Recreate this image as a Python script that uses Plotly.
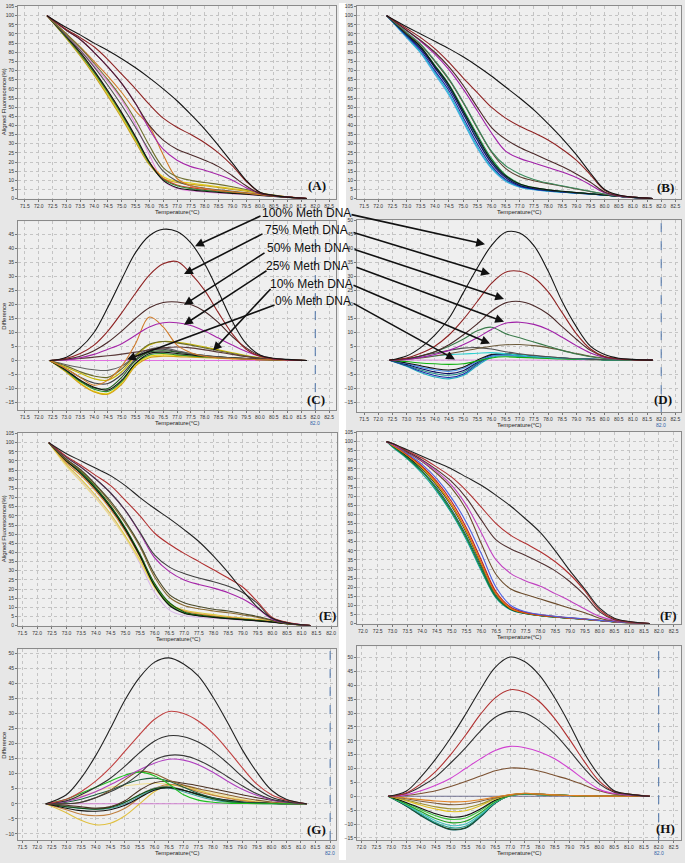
import plotly.graph_objects as go

# ---------------- temperature grids (deg C) ----------------
T_AB = [72.3, 73.0, 73.5, 74.0, 74.5, 75.0, 75.5, 76.0, 76.5, 77.0, 77.5, 78.0, 78.5, 79.0, 79.5, 80.0, 80.5, 81.0, 81.7]
T_CD = [72.4, 73.0, 73.5, 74.0, 74.5, 75.0, 75.5, 76.0, 76.5, 77.0, 77.5, 78.0, 78.5, 79.0, 79.5, 80.0, 80.5, 81.0, 81.7]
T_E = [72.4, 73.0, 73.5, 74.0, 74.5, 75.0, 75.5, 76.0, 76.5, 77.0, 77.5, 78.0, 78.5, 79.0, 79.5, 80.0, 80.5, 81.3]
T_F = [72.8, 73.0, 73.5, 74.0, 74.5, 75.0, 75.5, 76.0, 76.5, 77.0, 77.5, 78.0, 78.5, 79.0, 79.5, 80.0, 80.5, 81.0, 81.7]
T_G = [72.3, 73.0, 73.5, 74.0, 74.5, 75.0, 75.5, 76.0, 76.5, 77.0, 77.5, 78.0, 78.5, 79.0, 79.5, 80.0, 80.5, 81.2]
T_H = [72.9, 73.5, 74.0, 74.5, 75.0, 75.5, 76.0, 76.5, 77.0, 77.5, 78.0, 78.5, 79.0, 79.5, 80.0, 80.5, 81.0, 81.7]

# ---------------- Panel A : aligned fluorescence (%) ----------------
A_100 = [100, 93.5, 89.5, 85, 81, 76.5, 71.5, 66, 60, 53.5, 46, 38, 29, 19.5, 10, 3.5, 1.8, 0.8, 0]
A_75 = [100, 92.5, 88, 83, 76, 68, 60, 51.5, 44, 39, 35, 30.5, 25, 18, 9.5, 3.3, 1.7, 0.8, 0]
A_50 = [100, 92, 87, 80, 72, 63, 52, 40, 32, 27, 24, 21, 17.5, 12.5, 7, 2.8, 1.6, 0.8, 0]
A_25 = [100, 92, 87, 80, 72, 63, 52, 38, 27, 21, 17.5, 15.5, 13, 10, 6, 2.8, 1.6, 0.8, 0]
A_b1 = [100, 88, 79, 68.5, 57, 45, 32, 19.5, 12, 9.5, 8.5, 7.5, 6.5, 5.5, 4.5, 3, 1.8, 0.9, 0]
A_b2 = [100, 87.5, 78, 67.5, 56, 44, 31, 18.5, 11, 8.8, 7.8, 7, 6, 5, 4, 2.7, 1.6, 0.8, 0]
A_b3 = [100, 88.5, 80, 70, 59, 47, 34, 20, 10, 6, 4.8, 4, 3.4, 2.9, 2.4, 1.8, 1.2, 0.7, 0]
A_b4 = [100, 88, 79, 69, 58, 46, 33, 19.5, 10.5, 7, 5.5, 4.5, 3.8, 3.2, 2.6, 2, 1.3, 0.7, 0]
A_b5 = [100, 89.5, 81.5, 73, 64, 54, 40.5, 24, 10, 5.5, 4.3, 3.6, 3.1, 2.7, 2.3, 1.8, 1.2, 0.7, 0]
A_b6 = [100, 90, 83, 75, 67, 58, 48, 39.5, 24, 11, 7, 5.5, 4.5, 3.7, 3, 2.2, 1.4, 0.8, 0]
A_b7 = [100, 90, 82.5, 74, 65, 55, 43, 29, 17, 12, 10, 8.8, 7.8, 6.5, 5, 3.2, 1.9, 0.9, 0]
A_b8 = [100, 89, 81, 72, 62, 51, 39, 26, 15, 9.5, 7, 5.7, 4.8, 4, 3.2, 2.3, 1.5, 0.8, 0]
A_b9 = [100, 88.5, 79.5, 69.5, 58.5, 46.5, 33.5, 20, 11, 7.5, 6, 5, 4.2, 3.5, 2.9, 2.2, 1.6, 1, 0]

# ---------------- Panel B ----------------
B_100 = [100, 94, 90, 86, 82, 77.5, 72.5, 67, 61, 55, 48.5, 41, 33, 24, 14, 5, 2, 0.8, 0]
B_75 = [100, 93, 88, 82, 74.5, 66, 58, 50, 44, 39.5, 36, 32, 27, 21, 13, 4.5, 1.8, 0.8, 0]
B_50 = [100, 92, 86.5, 80, 72, 62, 50, 39, 32.5, 28, 24.5, 21, 17.5, 13.5, 9, 3.6, 1.6, 0.8, 0]
B_25 = [100, 92, 86, 79, 70.5, 60, 48, 36, 26, 22, 19.5, 17, 14.5, 11.5, 7.5, 3.2, 1.5, 0.7, 0]
B_10 = [100, 91, 84.5, 75.5, 65.5, 53, 39, 26, 18, 13.5, 10.5, 8.5, 7, 5.5, 4, 2.5, 1.3, 0.6, 0]
B_10b = [100, 90.5, 84, 75, 65, 52.5, 38.5, 25.5, 16.5, 12, 9.8, 8.2, 6.8, 5.3, 3.9, 2.4, 1.3, 0.6, 0]
B_b1 = [100, 89, 81, 70, 59, 44.5, 30, 18, 10.5, 6.8, 5.2, 4.3, 3.6, 3, 2.5, 1.9, 1.2, 0.6, 0]
B_b2 = [100, 88.5, 80, 69, 57.5, 43, 28.5, 17, 10, 6.5, 5, 4.2, 3.5, 3, 2.5, 1.9, 1.2, 0.6, 0]
B_b3 = [100, 89.5, 82, 71.5, 60.5, 46.5, 32, 19.5, 11.5, 7.2, 5.5, 4.5, 3.8, 3.2, 2.6, 2, 1.3, 0.6, 0]
B_b4 = [100, 90, 83, 73, 62.5, 49, 35, 22, 13, 8.2, 6, 4.8, 4, 3.3, 2.7, 2, 1.3, 0.6, 0]
B_b5 = [100, 89.5, 82.5, 72, 61.5, 47.5, 33, 20.5, 12, 7.6, 5.7, 4.6, 3.9, 3.2, 2.6, 2, 1.3, 0.6, 0]
B_b6 = [100, 90, 83, 72.5, 62, 48, 34, 21, 12.5, 8, 6, 4.8, 4, 3.3, 2.7, 2, 1.3, 0.6, 0]
B_b7 = [100, 88, 79.5, 68, 56.5, 42, 27.5, 16.5, 9.5, 6.3, 4.9, 4.1, 3.5, 3, 2.5, 1.9, 1.2, 0.6, 0]

# ---------------- Panel C : difference ----------------
C_100 = [0, 1.2, 4.5, 10, 19, 29, 38.5, 44.5, 46.8, 46, 42, 34.5, 24.5, 14, 6, 2, 0.8, 0.4, 0]
C_75 = [0, 0.8, 2.5, 5.5, 10.5, 17, 24, 30.5, 34.5, 35.3, 31, 25, 17, 9.5, 4, 1.5, 0.6, 0.3, 0]
C_50 = [0, 0.5, 1.5, 3.5, 6.5, 10.5, 15, 18.8, 20.7, 20.9, 20, 17.5, 13.5, 8.5, 4.5, 1.8, 0.7, 0.3, 0]
C_25 = [0, 0.3, 1, 2.2, 4, 6, 9, 12, 13.5, 13.5, 12.5, 10.5, 8, 5.5, 3.2, 1.5, 0.6, 0.2, 0]
C_or = [0, -3, -6, -8.8, -7, -2, 6, 15.5, 12, 5.5, 2.8, 1.5, 1, 0.7, 0.5, 0.3, 0.2, 0.1, 0]
C_10a = [0, -2.5, -4.5, -6.5, -7, -4, 1.5, 5.5, 6.8, 6.5, 5.8, 4.8, 3.8, 2.8, 1.8, 1, 0.5, 0.2, 0]
C_10b = [0, -2, -4, -5.5, -6, -3, 2, 5.8, 6.8, 6.3, 5.5, 4.5, 3.5, 2.5, 1.6, 0.9, 0.4, 0.2, 0]
C_gr = [0, -1.5, -2.5, -3.3, -3.5, -2, 1.5, 4, 4.5, 3.5, 2.5, 1.8, 1.2, 0.8, 0.5, 0.3, 0.2, 0.1, 0]
C_rise = [0, 0.3, 0.7, 1.2, 1.7, 2.3, 3, 3.8, 4.5, 4.8, 4.5, 3.8, 3, 2.2, 1.4, 0.8, 0.4, 0.2, 0]
C_b1 = [0, -4, -8, -11, -11.8, -8, -1.5, 1.5, 2, 1.8, 1.5, 1.2, 1, 0.8, 0.6, 0.4, 0.3, 0.1, 0]
C_b2 = [0, -4.2, -8.3, -11.2, -12, -8.5, -2, 1, 1.5, 1.4, 1.2, 1, 0.8, 0.6, 0.5, 0.3, 0.2, 0.1, 0]
C_b3 = [0, -3.5, -7, -9.5, -10.5, -7, -1, 2.5, 3, 2.5, 2, 1.5, 1.2, 0.9, 0.7, 0.5, 0.3, 0.1, 0]
C_b4 = [0, -3.8, -7.5, -10.2, -11, -7.5, -1, 2, 2.5, 2, 1.6, 1.3, 1, 0.8, 0.6, 0.4, 0.2, 0.1, 0]
C_b5 = [0, -3, -6, -8, -8.2, -5, 0.5, 3.5, 4, 3.2, 2.4, 1.8, 1.3, 1, 0.7, 0.5, 0.3, 0.1, 0]
C_b6 = [0, -3.6, -7.2, -9.8, -10, -6, 0, 3, 3.5, 3, 2.3, 1.7, 1.3, 1, 0.7, 0.5, 0.3, 0.1, 0]
C_ref = [0, 0, 0, 0, 0, 0, 0, 0, 0, 0, 0, 0, 0, 0, 0, 0, 0, 0, 0]

# ---------------- Panel D ----------------
D_100 = [0, 1.5, 4.5, 9, 15, 24, 33, 41, 45.8, 45.5, 41, 32, 21, 12, 5, 2, 0.7, 0.3, 0]
D_75 = [0, 0.8, 2.5, 5, 9, 14.5, 21, 27.5, 31.5, 31.8, 29.5, 24.5, 17, 9.5, 4, 1.3, 0.5, 0.2, 0]
D_50 = [0, 0.5, 1.5, 3, 5.5, 9, 13, 17.5, 20.5, 21, 19.5, 16.5, 12, 7.5, 3.5, 1.2, 0.5, 0.2, 0]
D_25 = [0, 0.3, 1, 2, 3.5, 5.5, 8, 11, 13.2, 13.6, 12.8, 11, 8.2, 5.2, 2.6, 1, 0.4, 0.2, 0]
D_gn = [0, 0.5, 1.5, 3, 5, 7.5, 10.5, 11.8, 9.5, 8, 6.5, 5, 3.5, 2.2, 1.2, 0.6, 0.3, 0.1, 0]
D_10 = [0, 0.3, 0.8, 1.5, 2.3, 3.2, 4.2, 5, 5.5, 5.6, 5.2, 4.5, 3.5, 2.4, 1.4, 0.7, 0.3, 0.1, 0]
D_gy = [0, 0.5, 1.5, 2.5, 3.5, 4.3, 4.5, 4, 3, 2.3, 1.7, 1.2, 0.8, 0.5, 0.3, 0.2, 0.1, 0, 0]
D_cy = [0, 0.5, 1, 1.5, 2, 2.2, 2.5, 2.7, 2.3, 1.8, 1.4, 1, 0.7, 0.5, 0.3, 0.2, 0.1, 0, 0]
D_g2 = [0, -0.5, -1, -1.3, -1.5, -1.3, -0.3, 0.8, 1.2, 1, 0.8, 0.6, 0.4, 0.3, 0.2, 0.1, 0, 0, 0]
D_b1 = [0, -2, -4, -5.5, -6.2, -5, -1.5, 1.5, 2, 1.6, 1.2, 0.9, 0.7, 0.5, 0.3, 0.2, 0.1, 0, 0]
D_b2 = [0, -2.2, -4.4, -6, -6.7, -5.5, -2, 1, 1.6, 1.3, 1, 0.8, 0.6, 0.4, 0.3, 0.2, 0.1, 0, 0]
D_b3 = [0, -1.5, -3, -4.2, -4.8, -3.8, -0.8, 1.8, 2.2, 1.8, 1.4, 1, 0.7, 0.5, 0.3, 0.2, 0.1, 0, 0]
D_b4 = [0, -1.8, -3.5, -4.8, -5.4, -4.4, -1.2, 1.6, 2, 1.7, 1.3, 1, 0.7, 0.5, 0.3, 0.2, 0.1, 0, 0]
D_b5 = [0, -1.2, -2.5, -3.5, -4, -3, -0.5, 1.5, 1.9, 1.5, 1.1, 0.8, 0.6, 0.4, 0.3, 0.2, 0.1, 0, 0]
D_b6 = [0, -1, -2, -3, -3.5, -2.5, 0, 2, 2.3, 1.9, 1.5, 1.1, 0.8, 0.5, 0.3, 0.2, 0.1, 0, 0]
D_ref = [0, 0, 0, 0, 0, 0, 0, 0, 0, 0, 0, 0, 0, 0, 0, 0, 0, 0, 0]

# ---------------- Panel E ----------------
E_100 = [100, 94, 90, 86, 82, 76.5, 70, 64, 58.5, 52.5, 46, 38, 29, 19, 10, 4, 1.5, 0]
E_75 = [100, 92.5, 87.5, 82, 76.5, 68.5, 60, 50.5, 44.5, 39.5, 35, 30.5, 26, 21, 13, 4.5, 1.8, 0]
E_50 = [100, 92, 86.5, 80, 72.5, 63, 51, 38.5, 32, 28.5, 26, 24, 21.5, 18, 12, 4, 1.6, 0]
E_25 = [100, 92, 86.5, 80, 72.5, 63, 50.5, 37, 29.5, 25, 22.5, 20.5, 18, 14.5, 9.5, 3.5, 1.5, 0]
E_10 = [100, 91, 85, 77, 68, 57, 44, 28, 17, 12.5, 10.5, 9, 8, 6.5, 5, 3, 1.2, 0]
E_10b = [100, 90.5, 84.5, 76.5, 67, 56, 43, 26.5, 15.5, 11, 9.2, 8, 7, 5.8, 4.5, 2.7, 1.1, 0]
E_b1 = [100, 90, 83.5, 75, 65, 53, 38.5, 22, 11.5, 7, 5.5, 4.6, 3.9, 3.3, 2.7, 2, 1, 0]
E_b2 = [100, 90, 83, 74.5, 64.5, 52.5, 38, 21.5, 11, 6.8, 5.3, 4.5, 3.8, 3.2, 2.6, 1.9, 1, 0]
E_b3 = [100, 88, 80, 71, 61, 49, 36, 21, 12, 8.5, 7, 6, 5, 4.2, 3.4, 2.4, 1.2, 0]
E_b4 = [100, 87, 78.5, 69.5, 59.5, 48, 35, 20.5, 11.5, 8, 6.5, 5.5, 4.6, 3.9, 3.2, 2.3, 1.1, 0]
E_b5 = [100, 87.5, 79, 70, 60, 48, 34, 18, 8.5, 5.5, 4.6, 4, 3.5, 3, 2.5, 1.8, 0.9, 0]
E_b6 = [100, 90.5, 84, 75.5, 65.5, 53.5, 39, 23, 12.5, 7.5, 5.8, 4.8, 4, 3.4, 2.8, 2, 1, 0]
E_b7 = [100, 89, 82, 73.5, 63.5, 51.5, 37.5, 22, 12, 8, 6.3, 5.3, 4.5, 3.7, 3, 2.1, 1.1, 0]

# ---------------- Panel F ----------------
F_100 = [100, 99, 95.5, 92, 88.5, 85, 80.5, 76, 70.5, 64.5, 57.5, 50, 40, 29, 19, 8.5, 3, 1.2, 0]
F_75 = [100, 99, 95, 91, 86, 80.5, 73, 64, 55, 48.5, 44, 39.5, 34, 27, 18, 7.5, 2.5, 1, 0]
F_50 = [100, 99, 94.5, 90, 84.5, 78, 69, 57, 46, 41, 37.5, 33.5, 29, 23, 15.5, 6.5, 2.2, 1, 0]
F_25 = [100, 98.5, 94.5, 89.5, 83.5, 76, 65, 50, 35, 27.5, 23.5, 20.5, 16.5, 12.5, 8, 4, 1.8, 0.9, 0]
F_10 = [100, 98.5, 94, 89, 82.5, 74.5, 62.5, 44, 27, 19, 16, 13.5, 11, 8.5, 6, 3, 1.5, 0.8, 0]
F_b1 = [100, 97, 90.5, 82.5, 72.5, 60.5, 46, 29, 14, 7.5, 5.5, 4.3, 3.5, 2.9, 2.3, 1.6, 1, 0.5, 0]
F_b2 = [100, 97.5, 91, 83.5, 73.5, 61.5, 47, 30, 14.5, 7.8, 5.6, 4.4, 3.6, 3, 2.4, 1.7, 1, 0.5, 0]
F_b3 = [100, 98, 92.5, 86, 77, 65.5, 51, 33.5, 16.5, 8.2, 5.8, 4.5, 3.7, 3, 2.4, 1.7, 1, 0.5, 0]
F_b4 = [100, 98, 92.5, 85.5, 76.5, 65, 50.5, 33, 16.5, 8.5, 6, 4.7, 3.8, 3.1, 2.5, 1.8, 1.1, 0.5, 0]
F_b5 = [100, 98, 92, 85, 76, 64.5, 50, 32.5, 16, 8, 5.7, 4.5, 3.7, 3, 2.4, 1.7, 1, 0.5, 0]
F_b6 = [100, 98.5, 93, 86.5, 78, 67, 52.5, 35, 17.5, 9, 6.2, 4.8, 3.9, 3.2, 2.5, 1.8, 1.1, 0.5, 0]
F_b7 = [100, 98.5, 93.5, 87.5, 79.5, 69, 55.5, 38.5, 20, 10, 6.5, 5, 4, 3.3, 2.6, 1.8, 1.1, 0.5, 0]
F_b8 = [100, 97.5, 91.5, 84, 74.5, 62.5, 48, 31, 15, 8, 5.7, 4.4, 3.6, 3, 2.4, 1.7, 1, 0.5, 0]

# ---------------- Panel G ----------------
G_100 = [0, 3, 8.5, 16, 25, 34.5, 42, 47, 48.5, 46.5, 42.5, 35.5, 27, 18, 10.5, 4.5, 1.5, 0]
G_75 = [0, 1.5, 4, 7.5, 12, 17.5, 23, 28, 30.7, 30, 27.5, 23.5, 18, 12, 6.5, 3, 1.2, 0]
G_50 = [0, 1, 3, 5.5, 8.5, 12.5, 17, 20.8, 22.6, 22.3, 20.5, 17.5, 13.5, 9, 5, 2.2, 0.9, 0]
G_25 = [0, 0, 0.5, 2, 4, 6.5, 10, 14.5, 16.1, 16, 14.5, 12, 9, 6, 3.3, 1.5, 0.6, 0]
G_pu = [0, 0.8, 2.2, 4, 6.3, 8.8, 11.3, 13.5, 14.8, 14.5, 13, 10.5, 7.5, 4.8, 2.8, 1.3, 0.5, 0]
G_gn = [0, 1.5, 3.5, 5.5, 7.5, 9.5, 10.5, 9.3, 6.5, 3, 1.2, 0.5, 0.2, 0.1, 0, 0, 0, 0]
G_br = [0, 0, 0.5, 2, 4.5, 8, 10.8, 10, 7.8, 6.2, 5, 4, 3, 2, 1.2, 0.6, 0.2, 0]
G_dg = [0, 0.5, 1.5, 3, 4.5, 6.5, 8, 8.5, 7.5, 5.5, 3.5, 2, 1, 0.5, 0.3, 0.1, 0, 0]
G_db = [0, -0.5, -1, -1.5, -1, 1, 4.5, 7, 7.5, 6.8, 6, 5, 4, 3, 2, 1.2, 0.5, 0]
G_ye = [0, -3, -5.5, -7, -6.5, -4, 0, 4, 6.2, 6, 4.5, 3, 2, 1.2, 0.6, 0.3, 0.1, 0]
G_or = [0, -2, -3.5, -4, -3.5, -1.5, 2, 5, 6.5, 5.5, 4, 2.8, 1.8, 1, 0.5, 0.2, 0.1, 0]
G_bk = [0, -1.5, -2.3, -2.5, -2, -0.5, 2, 4.5, 5.3, 4.5, 3.2, 2, 1.2, 0.6, 0.3, 0.1, 0, 0]
G_te = [0, -1, -1.6, -1.8, -1.5, 0, 2.5, 4.7, 5.2, 4, 2.5, 1.3, 0.6, 0.3, 0.1, 0, 0, 0]
G_gy = [0, -0.8, -1.3, -1.5, -1, 0.5, 3, 5.2, 5.8, 4.5, 3, 1.8, 1, 0.5, 0.2, 0.1, 0, 0]
G_ly = [0, 1, 2.5, 4, 5.5, 6, 6.5, 6.8, 6.5, 5.5, 4.5, 3.5, 2.5, 1.5, 0.8, 0.3, 0.1, 0]
G_d2 = [0, -1, -1.5, -1.8, -1.2, 0.5, 3, 5, 5.5, 4.5, 3, 1.7, 0.8, 0.4, 0.2, 0.1, 0, 0]
G_ref = [0, 0, 0, 0, 0, 0, 0, 0, 0, 0, 0, 0, 0, 0, 0, 0, 0, 0]

# ---------------- Panel H ----------------
H_100 = [0, 1.8, 7, 13.5, 21, 29.5, 38.5, 46.5, 50.2, 48.5, 43.5, 35.5, 26, 15.5, 7.5, 2, 0.8, 0]
H_75 = [0, 1.2, 4.5, 9, 15, 22, 29.5, 35.5, 38.4, 37.5, 34, 28, 20.5, 12.5, 5.5, 1.8, 0.8, 0]
H_50 = [0, 1, 3.5, 7, 12, 17.5, 23.5, 28.5, 30.6, 30, 27, 22.5, 16.5, 10, 4.5, 1.5, 0.7, 0]
H_25 = [0, 0.6, 2, 4, 6.5, 10, 13.5, 16.5, 18, 17.5, 16, 13.5, 10, 6, 2.5, 1, 0.5, 0]
H_10 = [0, 0.3, 1, 2, 3.5, 5.3, 7.3, 9.2, 10.2, 10, 9, 7.5, 6, 4, 2, 0.8, 0.3, 0]
H_b1 = [0, -3.5, -7, -10, -12, -11.5, -7.5, -2.5, 0.3, 0.8, 0.6, 0.4, 0.3, 0.2, 0.1, 0, 0, 0]
H_b2 = [0, -3.2, -6.5, -9.5, -11.3, -10.8, -7, -2.3, 0.3, 0.8, 0.6, 0.4, 0.3, 0.2, 0.1, 0, 0, 0]
H_b3 = [0, -2.8, -5.5, -8, -9.5, -9, -6, -2, 0.2, 0.9, 0.7, 0.5, 0.3, 0.2, 0.1, 0, 0, 0]
H_b4 = [0, -2.4, -4.8, -7, -8.3, -7.8, -5.2, -1.6, 0.3, 1, 0.7, 0.5, 0.3, 0.2, 0.1, 0, 0, 0]
H_b5 = [0, -2.2, -4.3, -6.3, -7.5, -7, -4.6, -1.4, 0.4, 1, 0.7, 0.5, 0.3, 0.2, 0.1, 0, 0, 0]
H_b6 = [0, -1.6, -3.2, -4.6, -5.5, -5.2, -3.4, -1, 0.4, 1, 0.7, 0.5, 0.3, 0.2, 0.1, 0, 0, 0]
H_b7 = [0, -1.3, -2.6, -3.8, -4.5, -4.2, -2.8, -0.8, 0.5, 1.1, 0.8, 0.5, 0.3, 0.2, 0.1, 0, 0, 0]
H_b8 = [0, -0.9, -1.8, -2.5, -3, -2.8, -1.8, -0.5, 0.5, 1, 0.8, 0.5, 0.3, 0.2, 0.1, 0, 0, 0]
H_b9 = [0, -3, -6, -8.8, -10.5, -10, -6.6, -2.2, 0.2, 0.9, 0.6, 0.4, 0.3, 0.2, 0.1, 0, 0, 0]
H_b10 = [0, -3.4, -6.8, -9.8, -11.8, -11.3, -7.3, -2.4, 0.2, 0.8, 0.6, 0.4, 0.3, 0.2, 0.1, 0, 0, 0]
H_or = [0, -0.6, -1.2, -1.7, -2, -1.9, -1.2, -0.3, 0.6, 1.1, 0.8, 0.5, 0.3, 0.2, 0.1, 0, 0, 0]
H_ref = [0, 0, 0, 0, 0, 0, 0, 0, 0, 0, 0, 0, 0, 0, 0, 0, 0, 0]

# ---------------- labels ----------------
PANEL_LABELS = ["(A)", "(B)", "(C)", "(D)", "(E)", "(F)", "(G)", "(H)"]
METH_LABELS = ["100% Meth DNA", "75% Meth DNA", "50% Meth DNA", "25% Meth DNA", "10% Meth DNA", "0% Meth DNA"]
X_TITLE = "Temperature(\u00b0C)"
Y_TITLE_FLUO = "Aligned Fluorescence(%)"
Y_TITLE_DIFF = "Difference"
MARKER_TEMP = 82.0

# ---------------- styling: (curve, colour) per panel ----------------
panels = [
    dict(T=T_AB, curves=[(A_b5, "#e58ae0"), (A_b1, "#e3d21a"), (A_b2, "#caa21c"), (A_b9, "#d83a2a"),
                         (A_b4, "#2f8a35"), (A_b3, "#111111"), (A_b8, "#555555"), (A_b6, "#d07a28"),
                         (A_b7, "#707030"), (A_25, "#a524a8"), (A_50, "#4a2828"), (A_75, "#8e2222"),
                         (A_100, "#151515")]),
    dict(T=T_AB, curves=[(B_b7, "#49a7e8"), (B_b2, "#1fb8c8"), (B_b1, "#1a2aa8"), (B_b5, "#1f8a84"),
                         (B_b3, "#0a0a60"), (B_b4, "#18a048"), (B_b6, "#111111"), (B_10b, "#5a4030"),
                         (B_10, "#3c8a5c"), (B_25, "#a020a8"), (B_50, "#4a2828"), (B_75, "#8e2222"),
                         (B_100, "#151515")]),
    dict(T=T_CD, curves=[(C_ref, "#e070e0"), (C_b1, "#e8d800"), (C_b2, "#d4a017"), (C_b4, "#2e8b2e"),
                         (C_b6, "#1f5f1f"), (C_b3, "#111111"), (C_b5, "#444444"), (C_gr, "#606060"),
                         (C_10a, "#c8b800"), (C_10b, "#6b6b2a"), (C_rise, "#5a3a3a"), (C_or, "#d07a28"),
                         (C_25, "#a524a8"), (C_50, "#4a2828"), (C_75, "#8e2222"), (C_100, "#151515")]),
    dict(T=T_CD, curves=[(D_ref, "#e0a0e0"), (D_b2, "#20b0c0"), (D_b1, "#1a2aa8"), (D_b4, "#1f8a84"),
                         (D_b3, "#0a0a60"), (D_b5, "#4a90e8"), (D_b6, "#111111"), (D_g2, "#10b010"),
                         (D_cy, "#30d0d0"), (D_gy, "#505050"), (D_10, "#6b5a3a"), (D_gn, "#3a7a4a"),
                         (D_25, "#a020a8"), (D_50, "#4a2828"), (D_75, "#8e2222"), (D_100, "#151515")]),
    dict(T=T_E, curves=[(E_b5, "#d8b8e8"), (E_b4, "#efe08a"), (E_b3, "#dcc840"), (E_b7, "#d08030"),
                        (E_b1, "#22a022"), (E_b6, "#106010"), (E_b2, "#111111"), (E_10b, "#8a6a30"),
                        (E_10, "#4a4a2a"), (E_25, "#a524a8"), (E_50, "#404040"), (E_75, "#b03030"),
                        (E_100, "#222222")]),
    dict(T=T_F, curves=[(F_b1, "#10a0a0"), (F_b8, "#206060"), (F_b2, "#108030"), (F_b5, "#111111"),
                        (F_b4, "#d0c010"), (F_b3, "#e07010"), (F_b6, "#c02020"), (F_b7, "#5060e0"),
                        (F_10, "#6a4a2a"), (F_25, "#c040c0"), (F_50, "#503030"), (F_75, "#b03030"),
                        (F_100, "#222222")]),
    dict(T=T_G, curves=[(G_ref, "#d080d0"), (G_ly, "#f0e090"), (G_ye, "#e0c040"), (G_or, "#c08040"),
                        (G_te, "#40a0a0"), (G_gy, "#909090"), (G_d2, "#105010"), (G_bk, "#111111"),
                        (G_db, "#4a3020"), (G_dg, "#206040"), (G_br, "#8a6030"), (G_gn, "#20c020"),
                        (G_pu, "#b040c0"), (G_25, "#3a3a3a"), (G_50, "#303030"), (G_75, "#c04040"),
                        (G_100, "#222222")]),
    dict(T=T_H, curves=[(H_ref, "#707090"), (H_b1, "#106060"), (H_b10, "#204020"), (H_b2, "#20a090"),
                        (H_b9, "#40c0c0"), (H_b3, "#20a020"), (H_b4, "#40c040"), (H_b5, "#111111"),
                        (H_b6, "#e0c020"), (H_b7, "#a09030"), (H_b8, "#806040"), (H_or, "#e08020"),
                        (H_10, "#7a5030"), (H_25, "#d040d0"), (H_50, "#303030"), (H_75, "#b03030"),
                        (H_100, "#222222")]),
]

W, H = 685, 863
def px_x(v):
    return v / W
def px_y(v):
    return 1 - v / H

# plot-area pixel boxes: (left, right, top, bottom)
boxes = [(18, 336, 3, 197), (357, 681, 3, 197),
         (18, 336, 220, 410), (357, 681, 219, 412),
         (18, 337, 433, 627), (357, 681, 432, 625),
         (18, 336, 651, 843), (357, 681, 648, 843)]
xranges = [[71.25, 82.75], [71.25, 82.7], [71.25, 82.75], [71.25, 82.7],
           [71.35, 82.2], [71.8, 82.75], [71.35, 82.2], [71.85, 82.75]]
yranges = [[0, 105.3], [0, 105.3], [-17.7, 49.6], [-18.6, 50],
           [0, 105.3], [0, 105.3], [-12.1, 51.3], [-15.8, 54]]
xtick0 = [71.5, 71.5, 71.5, 71.5, 71.5, 72.0, 71.5, 72.0]
ytick0 = [0, 0, -15, -15, 0, 0, -10, -15]

fig = go.Figure()
for i, p in enumerate(panels):
    sfx = "" if i == 0 else str(i + 1)
    for ys, col in p["curves"]:
        fig.add_trace(go.Scatter(x=p["T"], y=ys, mode="lines",
                                 line=dict(color=col, width=1.1, shape="spline", smoothing=1.0),
                                 xaxis="x" + sfx, yaxis="y" + sfx, showlegend=False, hoverinfo="skip"))

axis_common = dict(showgrid=True, gridcolor="#c4c4c4", griddash="dot", gridwidth=1,
                   showline=True, linecolor="#8a8a8a", linewidth=1, mirror=True,
                   ticks="outside", ticklen=2, tickcolor="#777777",
                   tickfont=dict(size=5, color="#333333", family="Liberation Sans"),
                   zeroline=False, fixedrange=True)
layout = {}
for i in range(8):
    sfx = "" if i == 0 else str(i + 1)
    l, r, t, b = boxes[i]
    layout["xaxis" + sfx] = dict(axis_common, domain=[px_x(l), px_x(r)], range=xranges[i],
                                 tick0=xtick0[i], dtick=0.5, tickformat=".1f",
                                 anchor="y" + sfx)
    layout["yaxis" + sfx] = dict(axis_common, domain=[px_y(b), px_y(t)], range=yranges[i],
                                 tick0=ytick0[i], dtick=5, anchor="x" + sfx)

fig.update_layout(width=W, height=H, margin=dict(l=0, r=0, t=0, b=0),
                  paper_bgcolor="#e7e7e7", plot_bgcolor="#efefef", **layout)

shapes = [dict(type="rect", xref="paper", yref="paper", x0=px_x(339), x1=px_x(346), y0=0, y1=1,
               fillcolor="white", line=dict(width=0), layer="below")]
annotations = []
# dashed marker lines at 82.0 in difference plots
for i in [2, 3, 6, 7]:
    sfx = str(i + 1)
    shapes.append(dict(type="line", xref="x" + sfx, yref="y" + sfx + " domain", x0=MARKER_TEMP, x1=MARKER_TEMP,
                       y0=0, y1=1, line=dict(color="#4a72a8", width=1, dash="dash")))
    annotations.append(dict(x=MARKER_TEMP, y=0, xref="x" + sfx, yref="y" + sfx + " domain",
                            text=f"{MARKER_TEMP:.1f}", showarrow=False, yshift=-8,
                            xanchor="center", yanchor="top",
                            font=dict(size=5, color="#2f5fa8", family="Liberation Sans")))

# axis titles
for i in range(8):
    l, r, t, b = boxes[i]
    annotations.append(dict(x=px_x((l + r) / 2), y=px_y(b + 13), xref="paper", yref="paper",
                            text=X_TITLE, showarrow=False, xanchor="center", yanchor="middle",
                            font=dict(size=6, color="#222222", family="Liberation Sans")))
for i, txt in [(0, Y_TITLE_FLUO), (2, Y_TITLE_DIFF), (4, Y_TITLE_FLUO), (6, Y_TITLE_DIFF)]:
    l, r, t, b = boxes[i]
    annotations.append(dict(x=px_x(4), y=px_y((t + b) / 2), xref="paper", yref="paper",
                            text=txt, showarrow=False, textangle=-90, xanchor="center", yanchor="middle",
                            font=dict(size=6, color="#222222", family="Liberation Sans")))

# panel letters
letter_pos = [(317, 184), (665, 186), (316, 399), (663, 399), (327, 617), (668, 617), (316, 832), (665, 831)]
for txt, (x, y) in zip(PANEL_LABELS, letter_pos):
    annotations.append(dict(x=px_x(x), y=px_y(y), xref="paper", yref="paper", text="<b>" + txt + "</b>",
                            showarrow=False, xanchor="center", yanchor="middle",
                            font=dict(size=13, color="#111111", family="Liberation Serif")))

# methylation labels + arrows
label_pos = [(306, 211), (306, 229), (308, 247), (307, 265), (311, 283), (313, 300)]
for txt, (x, y) in zip(METH_LABELS, label_pos):
    annotations.append(dict(x=px_x(x), y=px_y(y), xref="paper", yref="paper", text=txt, showarrow=False,
                            xanchor="center", yanchor="middle",
                            font=dict(size=12, color="#111111", family="Liberation Sans")))
arrows_left = [((262, 214), (195, 245)), ((264, 232), (184, 273)), ((266, 251), (184, 304)),
               ((268, 269), (184, 324)), ((272, 287), (213, 350)), ((276, 304), (127, 359))]
arrows_right = [((350, 213), (485, 243)), ((352, 231), (490, 273)), ((353, 248), (504, 298)),
                ((355, 266), (504, 321)), ((352, 284), (490, 343)), ((352, 302), (455, 359))]
for (tx, ty), (hx, hy) in arrows_left + arrows_right:
    annotations.append(dict(x=px_x(hx), y=px_y(hy), xref="paper", yref="paper", text="",
                            showarrow=True, axref="pixel", ayref="pixel", ax=tx - hx, ay=ty - hy,
                            arrowhead=2, arrowsize=1.1, arrowwidth=1.6, arrowcolor="#111111"))

fig.update_layout(shapes=shapes, annotations=annotations)
fig.write_html("out.html", config={"displayModeBar": False, "staticPlot": True})

# remove the default page margin so the figure sits at the window's top-left corner
with open("out.html", "r", encoding="utf-8") as fh:
    html = fh.read()
html = html.replace("<body>", '<body style="margin:0;padding:0;overflow:hidden;">', 1)
with open("out.html", "w", encoding="utf-8") as fh:
    fh.write(html)
